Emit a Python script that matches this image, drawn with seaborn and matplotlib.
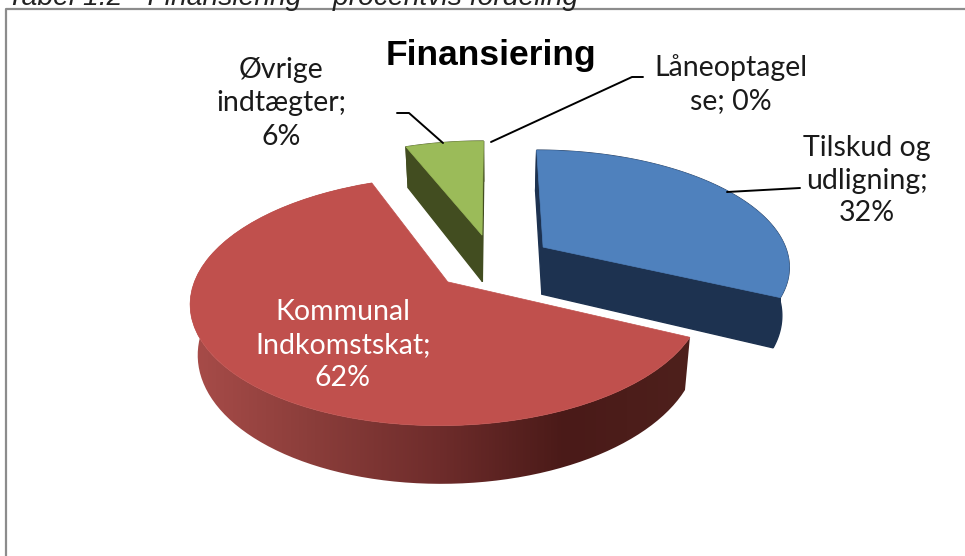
import numpy as np
import seaborn as sns
import matplotlib
matplotlib.use('Agg')
import matplotlib.pyplot as plt
from matplotlib.patches import PathPatch
from matplotlib.path import Path
from matplotlib.transforms import Transform

# chart values
names = ['Tilskud og udligning', 'Kommunal Indkomstskat', 'Øvrige indtægter', 'Låneoptagelse']
values = [32, 62, 6, 0]
label_lines = [['Tilskud og', 'udligning;', '32%'],
               ['Kommunal', 'Indkomstskat;', '62%'],
               ['Øvrige', 'indtægter;', '6%'],
               ['Låneoptagel', 'se; 0%']]
title = 'Finansiering'
caption = 'Tabel 1.2 - Finansiering – procentvis fordeling'

top_colors = ['#4f81bd', '#c0504d', '#9bbb59', '#9bbb59']
wall_colors = ['#1d3250', None, '#424d20', '#424d20']
red_wall = sns.blend_palette(['#a84c49', '#8a3d3a', '#6e2c2b', '#4a1a18', '#4e201c'], 256)

sns.set_theme(style='white')

# look of the 3d pie, in pixels
CX, CY, R = 493, 262, 247
SQUASH = 0.468
PERSP = 0.15
DEPTH = 48
EXPLODE = 0.245
BOTTOM_SHRINK = 0.975  # bottom face is further from the viewer


def project(uv, depth=0):
    uv = np.asarray(uv, dtype=float)
    f = 1 / (1 + PERSP * uv[:, 1])
    x = R * uv[:, 0] * f
    if depth:
        x = x * BOTTOM_SHRINK
    y = CY - R * SQUASH * uv[:, 1] * f + depth * f
    return np.column_stack([CX + x, y])


class Persp(Transform):
    input_dims = output_dims = 2

    def transform_non_affine(self, values):
        return project(values)


fig = plt.figure(figsize=(9.65, 5.56), dpi=100)
ax = fig.add_axes([0, 0, 1, 1])

wedges, _ = ax.pie(values, explode=[EXPLODE] * len(values), startangle=90,
                   counterclock=False, radius=1)
persp = Persp()


def side(seg):
    top, bot = project(seg), project(seg, DEPTH)
    return np.vstack([top, bot[::-1]])


# draw back to front: red, blue, green
for order, i in enumerate([1, 0, 2]):
    w = wedges[i]
    c = np.array(w.center)
    th = np.radians(np.linspace(w.theta1, w.theta2, 200))
    rim = c + np.column_stack([np.cos(th), np.sin(th)])
    z = 2 + order * 2
    if wall_colors[i] is None:
        # gradient side, clipped to the outer wall
        wall = PathPatch(Path(side(rim)), fc='none', ec='none', transform=ax.transData)
        ax.add_patch(wall)
        grad = np.array(red_wall)[None, :, :]
        im = ax.imshow(grad, extent=(190, 690, 556, 0), aspect='auto', zorder=z)
        im.set_clip_path(wall)
    else:
        ax.fill(*side(rim).T, color=wall_colors[i], lw=1, zorder=z)
        ax.fill(*side([c, rim[0]]).T, color=wall_colors[i], lw=1, zorder=z)
        ax.fill(*side([c, rim[-1]]).T, color=wall_colors[i], lw=1, zorder=z)
    w.set_transform(persp + ax.transData)
    w.set_facecolor(top_colors[i])
    w.set_edgecolor(top_colors[i])
    w.set_linewidth(0.5)
    w.set_zorder(z + 1)
wedges[3].set_visible(False)

ax.set_aspect('auto')
ax.set_xlim(0, 965)
ax.set_ylim(556, 0)
ax.axis('off')

# frame, only left and top are in the crop
ax.plot([6, 6, 965], [556, 9, 9], color='#8c8c8c', lw=1.6, zorder=1)

# caption cut by the top edge
ax.text(7, 5, caption, fontsize=20.3, style='italic', family='Liberation Sans',
        color='#222222', va='baseline', ha='left', zorder=9)
ax.text(491, 55, title, fontsize=25.5, fontweight='bold', family='Liberation Sans',
        color='black', ha='center', va='center', zorder=9)

# leader lines
leaders = [[(727, 192), (800, 188)],
           [(443, 143), (409, 113), (397, 113)],
           [(491, 142), (632, 77), (643, 77)]]
for pts in leaders:
    xs, ys = zip(*pts)
    ax.plot(xs, ys, color='black', lw=1.4, zorder=9)

label_pos = [(867, [148, 181, 213], '#1a1a1a'),
             (343, [312, 345, 378], 'white'),
             (281, [70, 103, 137], '#1a1a1a'),
             (731, [68, 101], '#1a1a1a')]
for lines, (x, ys, col) in zip(label_lines, label_pos):
    for line, y in zip(lines, ys):
        ax.text(x, y, line, fontsize=20.5, family='Lato', color=col,
                ha='center', va='center', zorder=10)

fig.savefig('out.png', dpi=100, facecolor='white')
